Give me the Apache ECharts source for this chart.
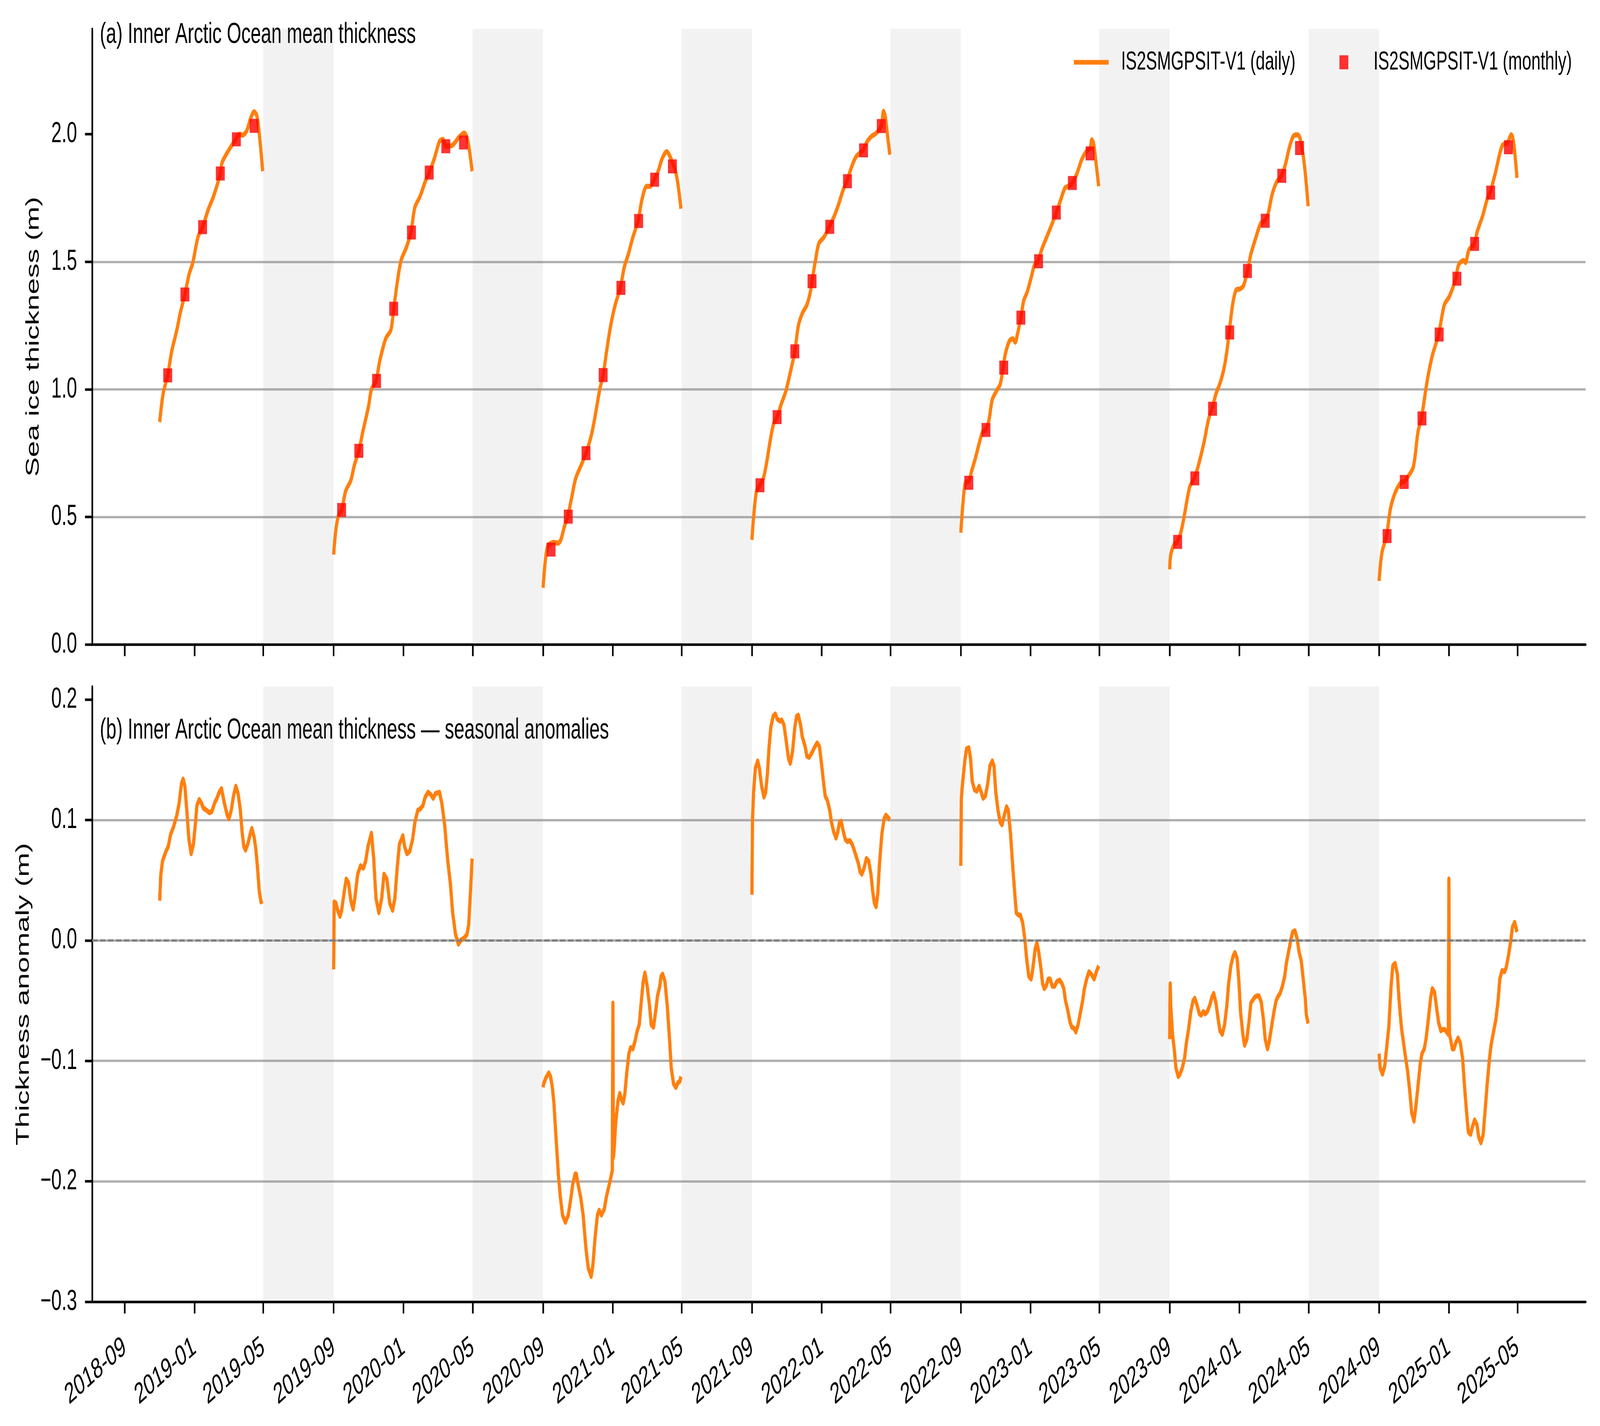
<!DOCTYPE html>
<html>
<head>
<meta charset="utf-8">
<script src="https://cdn.jsdelivr.net/npm/echarts@6/dist/echarts.min.js"></script>
<style>
  html, body { margin: 0; padding: 0; background: #fff; overflow: hidden; }
  #chart { width: 6458px; height: 3651px; transform-origin: 0 0; }
</style>
</head>
<body>
<div id="chart"></div>
<script>
// series names
const DAILY = 'IS2SMGPSIT-V1 (daily)';
const MONTHLY = 'IS2SMGPSIT-V1 (monthly)';

// x-axis tick labels (every 4 months)
const xTickLabels = ['2018-09', '2019-01', '2019-05', '2019-09', '2020-01', '2020-05', '2020-09',
  '2021-01', '2021-05', '2021-09', '2022-01', '2022-05', '2022-09', '2023-01', '2023-05',
  '2023-09', '2024-01', '2024-05', '2024-09', '2025-01', '2025-05'];
const topTicks = [0, 0.5, 1.0, 1.5, 2.0];
const bottomTicks = [-0.3, -0.2, -0.1, 0, 0.1, 0.2];

// summer gaps (shaded)
const summerGaps = [['2019-05-01', '2019-09-01'], ['2020-05-01', '2020-09-01'], ['2021-05-01', '2021-09-01'],
  ['2022-05-01', '2022-09-01'], ['2023-05-01', '2023-09-01'], ['2024-05-01', '2024-09-01']];

// (a) daily mean thickness, per season (m)
const daily1819 = [['2018-11-01',0.872],['2018-11-07',0.983],['2018-11-15',1.055],['2018-11-22',1.149],['2018-12-01',1.233],['2018-12-07',1.30],['2018-12-15',1.372],['2018-12-22',1.448],['2018-12-29',1.498],['2019-01-07',1.598],['2019-01-15',1.636],['2019-01-25',1.706],['2019-02-03',1.756],['2019-02-15',1.846],['2019-02-18',1.889],['2019-03-02',1.939],['2019-03-14',1.98],['2019-03-20',2.0],['2019-03-26',1.997],['2019-04-02',2.013],['2019-04-09',2.063],['2019-04-15',2.088],['2019-04-20',2.071],['2019-04-25',1.98],['2019-04-30',1.855]];
const daily1920 = [['2019-09-01',0.352],['2019-09-05',0.452],['2019-09-10',0.51],['2019-09-15',0.527],['2019-09-22',0.601],['2019-10-01',0.643],['2019-10-07',0.701],['2019-10-15',0.759],['2019-10-22',0.834],['2019-11-01',0.934],['2019-11-06',1.0],['2019-11-14',1.033],['2019-11-21',1.116],['2019-12-01',1.199],['2019-12-10',1.233],['2019-12-15',1.316],['2019-12-22',1.432],['2019-12-28',1.507],['2020-01-06',1.556],['2020-01-14',1.615],['2020-01-21',1.714],['2020-01-30',1.756],['2020-02-08',1.814],['2020-02-15',1.85],['2020-02-24',1.905],['2020-03-04',1.972],['2020-03-10',1.98],['2020-03-15',1.953],['2020-03-25',1.955],['2020-04-07',1.988],['2020-04-16',2.005],['2020-04-22',1.98],['2020-04-30',1.855]];
const daily2021 = [['2020-09-01',0.222],['2020-09-05',0.33],['2020-09-09',0.385],['2020-09-15',0.397],['2020-09-20',0.40],['2020-09-27',0.397],['2020-10-02',0.41],['2020-10-08',0.46],['2020-10-14',0.501],['2020-10-21',0.576],['2020-10-28',0.651],['2020-11-06',0.70],['2020-11-15',0.75],['2020-11-24',0.817],['2020-11-30',0.883],['2020-12-09',0.999],['2020-12-15',1.056],['2020-12-21',1.149],['2020-12-28',1.248],['2021-01-05',1.331],['2021-01-14',1.398],['2021-01-21',1.48],['2021-01-28',1.53],['2021-02-05',1.597],['2021-02-14',1.66],['2021-02-21',1.746],['2021-03-01',1.796],['2021-03-07',1.796],['2021-03-14',1.822],['2021-03-21',1.854],['2021-03-28',1.904],['2021-04-05',1.932],['2021-04-11',1.912],['2021-04-15',1.89],['2021-04-20',1.86],['2021-04-25',1.80],['2021-04-30',1.708]];
const daily2122 = [['2021-09-01',0.41],['2021-09-04',0.501],['2021-09-09',0.601],['2021-09-15',0.624],['2021-09-21',0.651],['2021-09-27',0.717],['2021-10-03',0.80],['2021-10-09',0.866],['2021-10-15',0.891],['2021-10-22',0.941],['2021-10-30',0.991],['2021-11-07',1.066],['2021-11-15',1.149],['2021-11-21',1.248],['2021-11-28',1.298],['2021-12-06',1.331],['2021-12-12',1.381],['2021-12-15',1.424],['2021-12-21',1.505],['2021-12-27',1.572],['2022-01-05',1.597],['2022-01-14',1.637],['2022-01-23',1.68],['2022-01-31',1.729],['2022-02-07',1.779],['2022-02-14',1.816],['2022-02-22',1.871],['2022-03-02',1.912],['2022-03-14',1.937],['2022-03-21',1.97],['2022-03-29',1.992],['2022-04-06',2.004],['2022-04-15',2.032],['2022-04-19',2.09],['2022-04-22',2.07],['2022-04-26',1.995],['2022-04-30',1.92]];
const daily2223 = [['2022-09-01',0.438],['2022-09-05',0.559],['2022-09-09',0.634],['2022-09-15',0.64],['2022-09-20',0.68],['2022-09-27',0.734],['2022-10-03',0.787],['2022-10-09',0.833],['2022-10-14',0.841],['2022-10-20',0.877],['2022-10-26',0.96],['2022-11-03',0.996],['2022-11-09',1.021],['2022-11-14',1.085],['2022-11-18',1.14],['2022-11-25',1.19],['2022-12-01',1.198],['2022-12-05',1.185],['2022-12-09',1.216],['2022-12-15',1.281],['2022-12-20',1.348],['2022-12-26',1.381],['2023-01-03',1.447],['2023-01-08',1.489],['2023-01-14',1.502],['2023-01-20',1.546],['2023-01-29',1.596],['2023-02-07',1.646],['2023-02-15',1.693],['2023-02-22',1.739],['2023-03-02',1.789],['2023-03-08',1.796],['2023-03-15',1.809],['2023-03-23',1.846],['2023-04-01',1.904],['2023-04-10',1.937],['2023-04-15',1.945],['2023-04-18',1.978],['2023-04-21',1.965],['2023-04-25',1.895],['2023-04-30',1.796]];
const daily2324 = [['2023-09-01',0.294],['2023-09-03',0.352],['2023-09-09',0.393],['2023-09-14',0.402],['2023-09-21',0.443],['2023-09-27',0.51],['2023-10-06',0.617],['2023-10-14',0.651],['2023-10-21',0.70],['2023-10-31',0.792],['2023-11-08',0.883],['2023-11-14',0.924],['2023-11-21',0.983],['2023-11-28',1.024],['2023-12-05',1.082],['2023-12-10',1.149],['2023-12-14',1.223],['2023-12-20',1.331],['2023-12-26',1.389],['2024-01-02',1.394],['2024-01-08',1.406],['2024-01-15',1.464],['2024-01-21',1.53],['2024-01-30',1.597],['2024-02-07',1.65],['2024-02-14',1.661],['2024-02-20',1.688],['2024-02-27',1.763],['2024-03-06',1.813],['2024-03-14',1.837],['2024-03-21',1.879],['2024-03-28',1.946],['2024-04-04',1.992],['2024-04-11',1.998],['2024-04-15',1.99],['2024-04-19',1.95],['2024-04-23',1.89],['2024-04-27',1.80],['2024-04-30',1.718]];
const daily2425 = [['2024-09-01',0.249],['2024-09-06',0.36],['2024-09-14',0.425],['2024-09-21',0.534],['2024-09-30',0.60],['2024-10-09',0.634],['2024-10-14',0.637],['2024-10-21',0.656],['2024-10-31',0.697],['2024-11-08',0.833],['2024-11-14',0.886],['2024-11-24',1.032],['2024-12-03',1.132],['2024-12-14',1.215],['2024-12-24',1.331],['2025-01-02',1.365],['2025-01-13',1.434],['2025-01-18',1.488],['2025-01-27',1.505],['2025-01-30',1.497],['2025-02-05',1.547],['2025-02-14',1.570],['2025-02-20',1.622],['2025-03-01',1.68],['2025-03-09',1.746],['2025-03-14',1.771],['2025-03-23',1.846],['2025-04-04',1.954],['2025-04-14',1.97],['2025-04-20',1.998],['2025-04-24',1.97],['2025-04-30',1.829]];

// (a) monthly means (mid-month)
const monthly1819 = [['2018-11-15',1.055],['2018-12-15',1.372],['2019-01-15',1.636],['2019-02-15',1.846],['2019-03-15',1.980],['2019-04-15',2.033]];
const monthly1920 = [['2019-09-15',0.527],['2019-10-15',0.759],['2019-11-15',1.033],['2019-12-15',1.316],['2020-01-15',1.615],['2020-02-15',1.850],['2020-03-15',1.953],['2020-04-15',1.968]];
const monthly2021 = [['2020-09-15',0.372],['2020-10-15',0.501],['2020-11-15',0.750],['2020-12-15',1.056],['2021-01-15',1.398],['2021-02-15',1.660],['2021-03-15',1.822],['2021-04-15',1.874]];
const monthly2122 = [['2021-09-15',0.624],['2021-10-15',0.891],['2021-11-15',1.149],['2021-12-15',1.424],['2022-01-15',1.637],['2022-02-15',1.816],['2022-03-15',1.937],['2022-04-15',2.032]];
const monthly2223 = [['2022-09-15',0.634],['2022-10-15',0.841],['2022-11-15',1.085],['2022-12-15',1.281],['2023-01-15',1.502],['2023-02-15',1.693],['2023-03-15',1.809],['2023-04-15',1.925]];
const monthly2324 = [['2023-09-15',0.402],['2023-10-15',0.651],['2023-11-15',0.924],['2023-12-15',1.223],['2024-01-15',1.464],['2024-02-15',1.661],['2024-03-15',1.837],['2024-04-15',1.946]];
const monthly2425 = [['2024-09-15',0.425],['2024-10-15',0.637],['2024-11-15',0.886],['2024-12-15',1.215],['2025-01-15',1.434],['2025-02-15',1.570],['2025-03-15',1.771],['2025-04-15',1.949]];

// (b) seasonal anomalies, per season (m)
const anom1819 = [['2018-11-01',0.033],['2018-11-03',0.055],['2018-11-06',0.066],['2018-11-12',0.074],['2018-11-16',0.078],['2018-11-20',0.088],['2018-11-25',0.094],['2018-12-01',0.104],['2018-12-05',0.114],['2018-12-09',0.130],['2018-12-12',0.134],['2018-12-15',0.128],['2018-12-19',0.104],['2018-12-22',0.084],['2018-12-26',0.072],['2018-12-30',0.080],['2019-01-03',0.100],['2019-01-05',0.112],['2019-01-09',0.117],['2019-01-13',0.114],['2019-01-16',0.110],['2019-01-22',0.108],['2019-01-27',0.106],['2019-01-31',0.107],['2019-02-05',0.114],['2019-02-09',0.118],['2019-02-13',0.123],['2019-02-17',0.126],['2019-02-22',0.114],['2019-02-27',0.104],['2019-03-02',0.101],['2019-03-06',0.108],['2019-03-10',0.120],['2019-03-14',0.128],['2019-03-18',0.122],['2019-03-22',0.108],['2019-03-25',0.090],['2019-03-28',0.078],['2019-03-31',0.075],['2019-04-04',0.080],['2019-04-08',0.088],['2019-04-11',0.093],['2019-04-15',0.086],['2019-04-18',0.076],['2019-04-21',0.060],['2019-04-24',0.041],['2019-04-27',0.032],['2019-04-30',0.033]];
const anom1920 = [['2019-09-01',-0.024],['2019-09-02',0.032],['2019-09-05',0.031],['2019-09-08',0.025],['2019-09-12',0.020],['2019-09-15',0.025],['2019-09-19',0.039],['2019-09-23',0.051],['2019-09-27',0.048],['2019-10-01',0.033],['2019-10-05',0.026],['2019-10-08',0.035],['2019-10-13',0.055],['2019-10-18',0.062],['2019-10-23',0.060],['2019-10-27',0.066],['2019-10-31',0.078],['2019-11-06',0.089],['2019-11-10',0.068],['2019-11-14',0.035],['2019-11-19',0.023],['2019-11-24',0.035],['2019-11-28',0.055],['2019-12-03',0.051],['2019-12-08',0.031],['2019-12-13',0.025],['2019-12-17',0.035],['2019-12-21',0.060],['2019-12-25',0.080],['2019-12-31',0.087],['2020-01-03',0.078],['2020-01-07',0.072],['2020-01-12',0.074],['2020-01-17',0.084],['2020-01-21',0.098],['2020-01-26',0.108],['2020-01-30',0.109],['2020-02-04',0.112],['2020-02-08',0.119],['2020-02-13',0.123],['2020-02-18',0.121],['2020-02-22',0.118],['2020-02-26',0.122],['2020-03-04',0.123],['2020-03-08',0.114],['2020-03-13',0.096],['2020-03-18',0.068],['2020-03-23',0.047],['2020-03-27',0.023],['2020-04-01',0.005],['2020-04-06',-0.003],['2020-04-10',0.000],['2020-04-16',0.002],['2020-04-21',0.005],['2020-04-24',0.013],['2020-04-27',0.039],['2020-04-30',0.068]];
const anom2021 = [['2020-09-01',-0.122],['2020-09-02',-0.119],['2020-09-06',-0.114],['2020-09-11',-0.110],['2020-09-14',-0.113],['2020-09-17',-0.121],['2020-09-20',-0.135],['2020-09-23',-0.159],['2020-09-28',-0.196],['2020-10-01',-0.212],['2020-10-05',-0.228],['2020-10-10',-0.234],['2020-10-15',-0.228],['2020-10-19',-0.216],['2020-10-23',-0.202],['2020-10-27',-0.194],['2020-10-29',-0.194],['2020-11-01',-0.202],['2020-11-06',-0.214],['2020-11-10',-0.228],['2020-11-15',-0.256],['2020-11-19',-0.272],['2020-11-24',-0.279],['2020-11-27',-0.270],['2020-12-01',-0.246],['2020-12-05',-0.228],['2020-12-08',-0.224],['2020-12-12',-0.228],['2020-12-17',-0.223],['2020-12-21',-0.212],['2020-12-26',-0.202],['2020-12-31',-0.191],['2021-01-01',-0.052],['2021-01-02',-0.180],['2021-01-03',-0.175],['2021-01-06',-0.151],['2021-01-10',-0.133],['2021-01-13',-0.127],['2021-01-16',-0.132],['2021-01-19',-0.135],['2021-01-22',-0.127],['2021-01-25',-0.111],['2021-01-29',-0.094],['2021-02-01',-0.089],['2021-02-05',-0.090],['2021-02-09',-0.083],['2021-02-12',-0.076],['2021-02-16',-0.070],['2021-02-19',-0.054],['2021-02-23',-0.034],['2021-02-26',-0.027],['2021-03-02',-0.038],['2021-03-06',-0.054],['2021-03-09',-0.070],['2021-03-13',-0.072],['2021-03-17',-0.058],['2021-03-20',-0.046],['2021-03-24',-0.038],['2021-03-26',-0.030],['2021-03-29',-0.028],['2021-04-02',-0.034],['2021-04-06',-0.054],['2021-04-10',-0.082],['2021-04-13',-0.106],['2021-04-17',-0.119],['2021-04-21',-0.122],['2021-04-25',-0.118],['2021-04-28',-0.117],['2021-04-30',-0.113]];
const anom2122 = [['2021-09-01',0.038],['2021-09-02',0.100],['2021-09-04',0.124],['2021-09-07',0.143],['2021-09-11',0.149],['2021-09-14',0.143],['2021-09-18',0.128],['2021-09-22',0.119],['2021-09-25',0.123],['2021-09-28',0.138],['2021-10-01',0.161],['2021-10-04',0.177],['2021-10-08',0.186],['2021-10-12',0.188],['2021-10-15',0.184],['2021-10-20',0.182],['2021-10-23',0.183],['2021-10-27',0.179],['2021-10-31',0.165],['2021-11-04',0.151],['2021-11-07',0.147],['2021-11-11',0.157],['2021-11-15',0.177],['2021-11-18',0.186],['2021-11-21',0.187],['2021-11-25',0.179],['2021-11-28',0.169],['2021-12-03',0.161],['2021-12-06',0.153],['2021-12-10',0.152],['2021-12-15',0.156],['2021-12-19',0.160],['2021-12-24',0.164],['2021-12-28',0.161],['2022-01-01',0.145],['2022-01-04',0.132],['2022-01-07',0.120],['2022-01-11',0.116],['2022-01-15',0.108],['2022-01-18',0.098],['2022-01-22',0.090],['2022-01-26',0.085],['2022-01-29',0.090],['2022-02-01',0.098],['2022-02-04',0.099],['2022-02-07',0.092],['2022-02-11',0.084],['2022-02-15',0.082],['2022-02-19',0.083],['2022-02-23',0.080],['2022-02-26',0.076],['2022-03-02',0.070],['2022-03-06',0.064],['2022-03-09',0.057],['2022-03-12',0.055],['2022-03-16',0.060],['2022-03-20',0.068],['2022-03-24',0.066],['2022-03-28',0.055],['2022-03-31',0.041],['2022-04-03',0.031],['2022-04-06',0.028],['2022-04-09',0.039],['2022-04-12',0.064],['2022-04-16',0.088],['2022-04-20',0.101],['2022-04-23',0.104],['2022-04-27',0.102],['2022-04-30',0.100]];
const anom2223 = [['2022-09-01',0.062],['2022-09-02',0.118],['2022-09-04',0.130],['2022-09-08',0.149],['2022-09-11',0.159],['2022-09-15',0.160],['2022-09-18',0.151],['2022-09-21',0.132],['2022-09-25',0.125],['2022-09-29',0.124],['2022-10-03',0.128],['2022-10-06',0.124],['2022-10-10',0.118],['2022-10-14',0.120],['2022-10-18',0.130],['2022-10-22',0.145],['2022-10-26',0.149],['2022-10-29',0.145],['2022-11-01',0.124],['2022-11-05',0.108],['2022-11-09',0.098],['2022-11-12',0.096],['2022-11-16',0.104],['2022-11-20',0.111],['2022-11-23',0.108],['2022-11-27',0.088],['2022-12-01',0.060],['2022-12-05',0.035],['2022-12-07',0.023],['2022-12-11',0.021],['2022-12-14',0.021],['2022-12-18',0.015],['2022-12-22',0.001],['2022-12-25',-0.015],['2022-12-29',-0.030],['2023-01-02',-0.032],['2023-01-05',-0.023],['2023-01-09',-0.007],['2023-01-12',-0.002],['2023-01-15',-0.009],['2023-01-19',-0.023],['2023-01-22',-0.036],['2023-01-25',-0.040],['2023-01-28',-0.038],['2023-02-01',-0.032],['2023-02-04',-0.032],['2023-02-08',-0.038],['2023-02-12',-0.038],['2023-02-16',-0.034],['2023-02-21',-0.033],['2023-02-25',-0.036],['2023-02-28',-0.040],['2023-03-03',-0.050],['2023-03-07',-0.058],['2023-03-11',-0.068],['2023-03-14',-0.072],['2023-03-18',-0.073],['2023-03-21',-0.076],['2023-03-25',-0.070],['2023-03-29',-0.060],['2023-04-02',-0.050],['2023-04-05',-0.040],['2023-04-09',-0.032],['2023-04-13',-0.026],['2023-04-17',-0.028],['2023-04-22',-0.032],['2023-04-26',-0.026],['2023-04-30',-0.021]];
const anom2324 = [['2023-09-01',-0.082],['2023-09-02',-0.036],['2023-09-03',-0.054],['2023-09-06',-0.078],['2023-09-09',-0.090],['2023-09-12',-0.106],['2023-09-16',-0.113],['2023-09-19',-0.111],['2023-09-23',-0.106],['2023-09-27',-0.098],['2023-09-30',-0.086],['2023-10-04',-0.074],['2023-10-08',-0.059],['2023-10-12',-0.050],['2023-10-15',-0.048],['2023-10-19',-0.054],['2023-10-23',-0.061],['2023-10-26',-0.062],['2023-10-30',-0.059],['2023-11-02',-0.061],['2023-11-06',-0.059],['2023-11-10',-0.054],['2023-11-14',-0.047],['2023-11-17',-0.044],['2023-11-21',-0.052],['2023-11-25',-0.066],['2023-11-28',-0.075],['2023-12-02',-0.078],['2023-12-06',-0.070],['2023-12-10',-0.054],['2023-12-13',-0.036],['2023-12-17',-0.021],['2023-12-21',-0.013],['2023-12-24',-0.010],['2023-12-28',-0.015],['2023-12-31',-0.034],['2024-01-03',-0.060],['2024-01-07',-0.078],['2024-01-10',-0.087],['2024-01-14',-0.082],['2024-01-18',-0.066],['2024-01-21',-0.052],['2024-01-25',-0.049],['2024-01-28',-0.047],['2024-02-01',-0.046],['2024-02-04',-0.046],['2024-02-08',-0.051],['2024-02-12',-0.066],['2024-02-15',-0.082],['2024-02-19',-0.090],['2024-02-22',-0.084],['2024-02-26',-0.072],['2024-03-01',-0.060],['2024-03-05',-0.050],['2024-03-09',-0.046],['2024-03-12',-0.044],['2024-03-16',-0.038],['2024-03-20',-0.030],['2024-03-23',-0.019],['2024-03-27',-0.009],['2024-03-31',0.001],['2024-04-03',0.007],['2024-04-07',0.008],['2024-04-11',0.001],['2024-04-14',-0.009],['2024-04-18',-0.017],['2024-04-21',-0.030],['2024-04-25',-0.048],['2024-04-27',-0.062],['2024-04-30',-0.069]];
const anom2425 = [['2024-09-01',-0.094],['2024-09-03',-0.106],['2024-09-07',-0.111],['2024-09-11',-0.104],['2024-09-14',-0.090],['2024-09-18',-0.072],['2024-09-22',-0.038],['2024-09-25',-0.021],['2024-09-29',-0.019],['2024-10-03',-0.028],['2024-10-06',-0.050],['2024-10-10',-0.072],['2024-10-14',-0.086],['2024-10-17',-0.096],['2024-10-21',-0.109],['2024-10-25',-0.127],['2024-10-28',-0.143],['2024-11-01',-0.150],['2024-11-04',-0.139],['2024-11-08',-0.121],['2024-11-12',-0.102],['2024-11-15',-0.094],['2024-11-19',-0.090],['2024-11-22',-0.082],['2024-11-26',-0.066],['2024-11-30',-0.048],['2024-12-03',-0.040],['2024-12-07',-0.043],['2024-12-10',-0.054],['2024-12-14',-0.068],['2024-12-18',-0.075],['2024-12-21',-0.074],['2024-12-25',-0.074],['2024-12-31',-0.078],['2025-01-01',0.051],['2025-01-02',-0.078],['2025-01-04',-0.082],['2025-01-07',-0.090],['2025-01-10',-0.090],['2025-01-13',-0.085],['2025-01-17',-0.081],['2025-01-21',-0.085],['2025-01-25',-0.098],['2025-01-28',-0.119],['2025-02-01',-0.143],['2025-02-04',-0.159],['2025-02-08',-0.161],['2025-02-11',-0.155],['2025-02-15',-0.149],['2025-02-19',-0.153],['2025-02-22',-0.163],['2025-02-26',-0.168],['2025-03-02',-0.161],['2025-03-05',-0.143],['2025-03-09',-0.119],['2025-03-13',-0.098],['2025-03-16',-0.086],['2025-03-20',-0.076],['2025-03-24',-0.066],['2025-03-28',-0.050],['2025-03-31',-0.032],['2025-04-04',-0.025],['2025-04-08',-0.026],['2025-04-11',-0.023],['2025-04-15',-0.013],['2025-04-19',-0.001],['2025-04-22',0.011],['2025-04-26',0.015],['2025-04-30',0.007]];

const dailySeasons = [daily1819, daily1920, daily2021, daily2122, daily2223, daily2324, daily2425];
const monthlySeasons = [monthly1819, monthly1920, monthly2021, monthly2122, monthly2223, monthly2324, monthly2425];
const anomSeasons = [anom1819, anom1920, anom2021, anom2122, anom2223, anom2324, anom2425];

const FONT = "'Liberation Sans', Arial, Helvetica, sans-serif";
const ORANGE = '#ff7f0e';

// dates -> timestamps so the x axis can be a plain value axis with custom ticks
const ts = s => +echarts.number.parseDate(s);
const toXY = arr => arr.map(p => [ts(p[0]), p[1]]);
const tickTs = xTickLabels.map(s => ts(s + '-01'));
const X_MIN = ts('2018-07-06');
const X_MAX = ts('2025-08-28');

// the figure is laid out at 6458x3651; if the window is another size, fit it in
const dom = document.getElementById('chart');
const fitX = window.innerWidth / 6458, fitY = window.innerHeight / 3651;
if (Math.abs(fitX - 1) > 0.01 || Math.abs(fitY - 1) > 0.01) {
  dom.style.transform = 'scale(' + fitX + ',' + fitY + ')';
}
const chart = echarts.init(dom);

function xAxisFor(idx, showLabels) {
  return {
    type: 'value', gridIndex: idx,
    min: X_MIN, max: X_MAX,
    axisLine: { show: true, onZero: false, lineStyle: { color: '#000', width: 6.5 } },
    axisTick: { show: true, length: 30, customValues: tickTs, lineStyle: { color: '#000', width: 6.5 } },
    axisLabel: {
      show: showLabels, customValues: tickTs, rotate: 30, margin: 110,
      fontSize: 74, color: '#000', fontFamily: FONT,
      formatter: v => echarts.time.format(v, '{yyyy}-{MM}', false)
    },
    splitLine: { show: false }
  };
}

function fmtTick(v) {
  const s = Math.abs(v).toFixed(1);
  return (v < -1e-9 ? '\u2212' : '') + s;
}

const shade = {
  silent: true,
  itemStyle: { color: 'rgba(128,128,128,0.1)' },
  data: summerGaps.map(g => [{ xAxis: ts(g[0]) }, { xAxis: ts(g[1]) }])
};

const series = [];
dailySeasons.forEach((d, i) => {
  const s = {
    name: DAILY, type: 'line', xAxisIndex: 0, yAxisIndex: 0, data: toXY(d),
    symbol: 'none', smooth: 0.3, silent: true,
    lineStyle: { color: ORANGE, width: 13 }, itemStyle: { color: ORANGE }, z: 3
  };
  if (i === 0) s.markArea = shade;
  series.push(s);
});
series.push({
  name: MONTHLY, type: 'scatter', xAxisIndex: 0, yAxisIndex: 0,
  data: toXY(monthlySeasons.flat()), symbol: 'rect', symbolSize: 34, silent: true,
  itemStyle: { color: '#ff0000', borderColor: '#f52020', borderWidth: 2 }, z: 5
});
anomSeasons.forEach((d, i) => {
  const s = {
    name: DAILY, type: 'line', xAxisIndex: 1, yAxisIndex: 1, data: toXY(d),
    symbol: 'none', smooth: false, silent: true,
    lineStyle: { color: ORANGE, width: 13, join: 'round' }, itemStyle: { color: ORANGE }, z: 3
  };
  if (i === 0) {
    s.markArea = shade;
    s.markLine = {
      silent: true, symbol: ['none', 'none'], label: { show: false },
      lineStyle: { color: '#808080', width: 6, type: [22, 10] },
      data: [{ yAxis: 0 }]
    };
  }
  series.push(s);
});

chart.setOption({
  animation: false,
  backgroundColor: '#fff',
  textStyle: { fontFamily: FONT },
  grid: [
    { left: 372, right: 58, top: 74, height: 1576 },
    { left: 372, right: 58, top: 1758, height: 1575 }
  ],
  legend: [
    {
      data: [DAILY], left: 4334, top: 126, padding: 0,
      icon: 'rect', itemWidth: 141, itemHeight: 12,
      textStyle: { fontSize: 67, lineHeight: 67, color: '#000', fontFamily: FONT, padding: [0, 0, 0, 45] }
    },
    {
      data: [MONTHLY], left: 5406, top: 126, padding: 0,
      icon: 'rect', itemWidth: 34, itemHeight: 34,
      textStyle: { fontSize: 67, lineHeight: 67, color: '#000', fontFamily: FONT, padding: [0, 0, 0, 98] }
    }
  ],
  xAxis: [xAxisFor(0, false), xAxisFor(1, true)],
  yAxis: [
    {
      type: 'value', gridIndex: 0, min: 0, max: 2.413, interval: 0.5,
      name: 'Sea ice thickness (m)', nameLocation: 'middle', nameGap: 199,
      nameTextStyle: { fontSize: 75, color: '#000', fontFamily: FONT },
      axisLine: { show: true, lineStyle: { color: '#000', width: 6.5 } },
      axisTick: { show: true, length: 29, customValues: topTicks, lineStyle: { color: '#000', width: 6.5 } },
      axisLabel: { customValues: topTicks, fontSize: 75, color: '#000', margin: 61, fontFamily: FONT, formatter: fmtTick },
      splitLine: { show: true, showMaxLine: false, lineStyle: { color: '#b0b0b0', width: 6 } }
    },
    {
      type: 'value', gridIndex: 1, min: -0.3, max: 0.2107, interval: 0.1,
      name: 'Thickness anomaly (m)', nameLocation: 'middle', nameGap: 239,
      nameTextStyle: { fontSize: 75, color: '#000', fontFamily: FONT },
      axisLine: { show: true, onZero: false, lineStyle: { color: '#000', width: 6.5 } },
      axisTick: { show: true, length: 29, customValues: bottomTicks, lineStyle: { color: '#000', width: 6.5 } },
      axisLabel: { customValues: bottomTicks, fontSize: 75, color: '#000', margin: 61, fontFamily: FONT, formatter: fmtTick },
      splitLine: { show: true, showMaxLine: false, lineStyle: { color: '#b0b0b0', width: 6 } }
    }
  ],
  graphic: [
    {
      type: 'text', x: 403, y: 89, silent: true,
      style: { text: '(a) Inner Arctic Ocean mean thickness', font: '75px ' + FONT, fill: '#000', verticalAlign: 'middle', align: 'left' }
    },
    {
      type: 'text', x: 403, y: 1870, silent: true,
      style: { text: '(b) Inner Arctic Ocean mean thickness \u2014 seasonal anomalies', font: '75px ' + FONT, fill: '#000', verticalAlign: 'middle', align: 'left' }
    }
  ],
  series: series
});
</script>
</body>
</html>
